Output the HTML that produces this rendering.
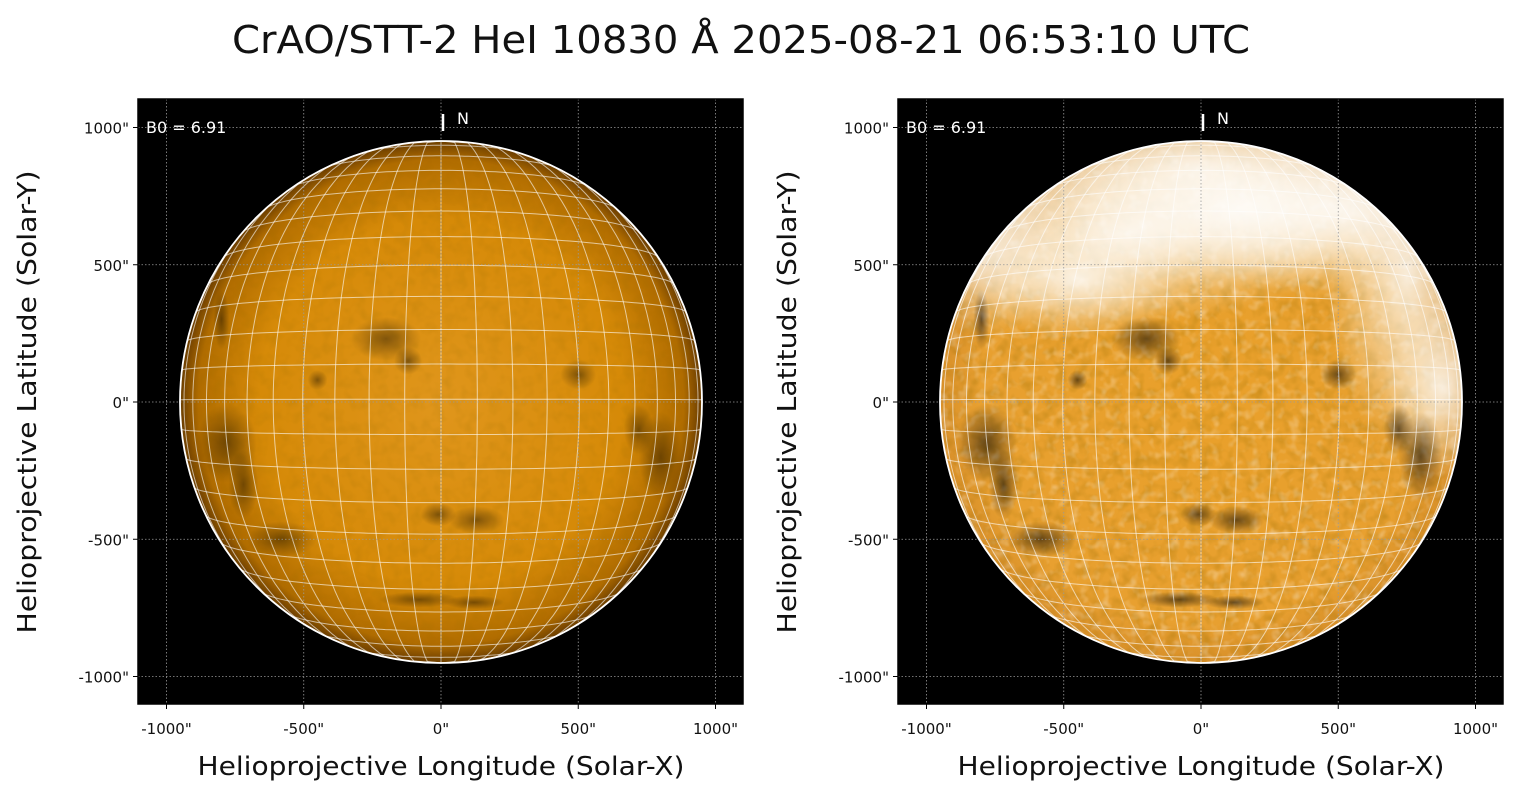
<!DOCTYPE html><html><head><meta charset="utf-8"><style>
body{margin:0;background:#fff;width:1520px;height:795px;overflow:hidden}
</style></head><body>
<svg id="s" width="1520" height="795" xmlns="http://www.w3.org/2000/svg" font-family="DejaVu Sans, Liberation Sans, sans-serif">
<defs>
<radialGradient id="g1" cx="50%" cy="50%" r="50%">
<stop offset="0" stop-color="#e0961c"/><stop offset="0.7" stop-color="#d68a08"/><stop offset="0.93" stop-color="#b06c00"/><stop offset="1" stop-color="#6a3c00"/>
</radialGradient>
<radialGradient id="g2" cx="50%" cy="50%" r="50%">
<stop offset="0" stop-color="#e9a02a"/><stop offset="0.85" stop-color="#e8a030"/><stop offset="1" stop-color="#d8902a"/>
</radialGradient>
<radialGradient id="w" cx="50%" cy="50%" r="50%"><stop offset="0" stop-color="#fff" stop-opacity="0.8"/><stop offset="1" stop-color="#fff" stop-opacity="0"/></radialGradient>
<radialGradient id="d" cx="50%" cy="50%" r="50%"><stop offset="0" stop-color="#000" stop-opacity="0.55"/><stop offset="1" stop-color="#000" stop-opacity="0"/></radialGradient>
<filter id="n1" x="0" y="0" width="100%" height="100%"><feTurbulence type="fractalNoise" baseFrequency="0.09" numOctaves="2" seed="3"/><feColorMatrix values="0 0 0 0 0.3  0 0 0 0 0.15  0 0 0 0 0  0 0 0 -2.2 1.25"/></filter>
<filter id="n2" x="0" y="0" width="100%" height="100%"><feTurbulence type="fractalNoise" baseFrequency="0.1" numOctaves="2" seed="7"/><feColorMatrix values="0 0 0 0 1  0 0 0 0 1  0 0 0 0 1  0 0 0 2.4 -1.2"/></filter>
<clipPath id="c1"><circle cx="441" cy="402" r="261"/></clipPath>
<clipPath id="c2"><circle cx="1201" cy="402" r="261"/></clipPath>
</defs>
<text x="741" y="53" font-size="38" text-anchor="middle" fill="#111" textLength="1018" lengthAdjust="spacingAndGlyphs">CrAO/STT-2 HeI 10830 Å 2025-08-21 06:53:10 UTC</text>
<g id="panels"></g>
</svg>
<script>
const NS="http://www.w3.org/2000/svg",P=document.getElementById('panels');
function el(t,a,p){const e=document.createElementNS(NS,t);for(const k in a)e.setAttribute(k,a[k]);(p||P).appendChild(e);return e}
function panel(x0,grad,bright,cid){
 const cx=x0+303,cy=402,R=261,s=0.2745;
 el('rect',{x:x0,y:99,width:605,height:605,fill:'#000'});
 const g=el('g',{'clip-path':'url(#'+cid+')'});
 el('circle',{cx,cy,r:R,fill:'url(#'+grad+')'},g);
 el('rect',{x:cx-R,y:cy-R,width:2*R,height:2*R,filter:'url(#n1)',opacity:bright?0.3:0.16},g);
 if(bright){
  el('rect',{x:cx-R,y:cy-R,width:2*R,height:2*R,filter:'url(#n2)',opacity:0.3},g);
  [[0,850,260,110],[-250,620,220,90],[-450,450,110,60],[750,450,80,170],[880,50,60,90],[150,700,200,80],[-800,600,80,100],[500,700,150,90]].forEach(p=>el('ellipse',{cx:cx+p[0]*s,cy:cy-p[1]*s,rx:p[2],ry:p[3],fill:'url(#w)'},g));
 }
 const spots=[[-200,230,35,22],[-120,150,14,14],[-450,80,10,10],[-780,-150,30,40],[-580,-500,35,18],[-720,-300,15,35],[800,-200,22,45],[720,-100,15,25],[130,-430,28,14],[-10,-410,18,12],[-80,-720,40,8],[120,-730,30,7],[500,100,18,15],[-800,300,8,30]];
 spots.forEach(p=>el('ellipse',{cx:cx+p[0]*s,cy:cy-p[1]*s,rx:p[2],ry:p[3],fill:'url(#d)',opacity:bright?1:0.75},g));
 [-1000,-500,0,500,1000].forEach(v=>{el('line',{x1:cx+v*s,x2:cx+v*s,y1:99,y2:704,stroke:'#999','stroke-width':0.8,'stroke-dasharray':'1.5,2'});el('line',{y1:cy-v*s,y2:cy-v*s,x1:x0,x2:x0+605,stroke:'#999','stroke-width':0.8,'stroke-dasharray':'1.5,2'});});
 const k=Math.sin(7*Math.PI/180),r=Math.PI/180;
 function pr(la,lo){const L=la*r,O=lo*r;const x=Math.cos(L)*Math.sin(O);let y=Math.sin(L)+Math.sign(la)*k*Math.cos(L)*Math.cos(O)*Math.abs(Math.sin(L))*1.6;
  y=Math.max(-1,Math.min(1,y));const lim=Math.sqrt(Math.max(0,1-y*y));const xx=Math.max(-lim,Math.min(lim,x));return [cx+xx*R,cy-y*R]}
 function line(pts){let d='';pts.forEach((p,i)=>{d+=(i?'L':'M')+p[0].toFixed(1)+' '+p[1].toFixed(1)});el('path',{d,fill:'none',stroke:'#fff','stroke-opacity':0.6,'stroke-width':1},g);}
 for(let lo=-88;lo<=88;lo+=8){const a=[];for(let la=-90;la<=90;la+=2)a.push(pr(la,lo));line(a)}
 for(let la=-84;la<=84;la+=6.5){const a=[];for(let lo=-90;lo<=90;lo+=2)a.push(pr(la,lo));line(a)}
 el('circle',{cx,cy,r:R,fill:'none',stroke:'#fff','stroke-width':1.8});
 el('rect',{x:x0,y:99,width:605,height:605,fill:'none',stroke:'#000','stroke-width':1.5});
 el('line',{x1:cx+2,x2:cx+2,y1:114,y2:131,stroke:'#fff','stroke-width':2.5});
 el('text',{x:cx+16,y:124,fill:'#fff','font-size':16}).textContent='N';
 el('text',{x:x0+8,y:133,fill:'#fff','font-size':16}).textContent='B0 = 6.91';
 [-1000,-500,0,500,1000].forEach(v=>{
  el('line',{x1:cx+v*s,x2:cx+v*s,y1:704,y2:709,stroke:'#000'});
  el('text',{x:cx+v*s,y:734,'font-size':15,'text-anchor':'middle',fill:'#111'}).textContent=v+'"';
  el('line',{x1:x0-5,x2:x0,y1:cy-v*s,y2:cy-v*s,stroke:'#000'});
  el('text',{x:x0-9,y:cy-v*s+6,'font-size':15,'text-anchor':'end',fill:'#111'}).textContent=v+'"';
 });
 el('text',{x:cx,y:775,'font-size':26,'text-anchor':'middle',fill:'#111',textLength:487,lengthAdjust:'spacingAndGlyphs'}).textContent='Helioprojective Longitude (Solar-X)';
 el('text',{x:0,y:0,'font-size':26,'text-anchor':'middle',fill:'#111',textLength:463,lengthAdjust:'spacingAndGlyphs',transform:`translate(${x0-102},${cy}) rotate(-90)`}).textContent='Helioprojective Latitude (Solar-Y)';
}
panel(138,'g1',false,'c1');panel(898,'g2',true,'c2');
</script>
</body></html>
